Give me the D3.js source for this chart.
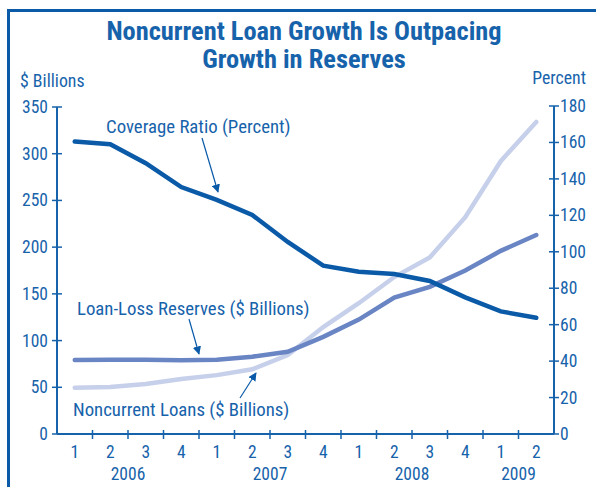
<!DOCTYPE html>
<html lang="en">
	<head>
		<meta charset="utf-8">
		<title>Noncurrent Loan Growth</title>
		<script src="https://d3js.org/d3.v7.min.js"></script>
		<style>
			body { margin: 0; background: #fff; }
			text { font-family: "Liberation Sans Narrow", "Roboto Condensed", "Arial Narrow", sans-serif; fill: #1763ab; }
		</style>
	</head>
	<body>
		<div id="chart"></div>
		<script>
// quarters and years
var quarters = ["1", "2", "3", "4", "1", "2", "3", "4", "1", "2", "3", "4", "1", "2"];
var years = ["2006", "2007", "2008", "2009"];
var yearStart = [0, 4, 8, 12];
var yearLen = [4, 4, 4, 2];

// series values
var coverageRatio = [160.5, 159, 148.6, 135.5, 128.5, 120.2, 105.4, 92.4, 89, 87.8, 84, 75, 67.3, 63.8];       // percent
var loanLossReserves = [79.2, 79.5, 79.5, 79, 79.5, 82.8, 88, 104, 122.5, 146, 157.5, 175, 196, 213];             // $ billions
var noncurrentLoans = [49.6, 50.2, 53.5, 58.8, 63, 69.3, 84.5, 114.5, 140, 168, 189, 232, 292, 334];              // $ billions

var leftTicks = [0, 50, 100, 150, 200, 250, 300, 350];
var rightTicks = [0, 20, 40, 60, 80, 100, 120, 140, 160, 180];

var blue = "#1763ab";
var W = 596, H = 487;

var svg = d3.select("#chart")
	.append("svg")
	.attr("width", W)
	.attr("height", H);

// frame
svg.append("path")
	.attr("d", "M8.5," + H + "V10.5H" + W)
	.attr("fill", "none")
	.attr("stroke", "#0a5aa8")
	.attr("stroke-width", 3);

// scales
var x = d3.scaleBand()
	.domain(d3.range(quarters.length))
	.range([57, 554]);

var yL = d3.scaleLinear()
	.domain([0, 350])
	.range([434, 107]);

var yR = d3.scaleLinear()
	.domain([0, 180])
	.range([434, 106]);

function cx(i) { return x(i) + x.bandwidth() / 2; }

// left axis
var gl = svg.append("g").attr("transform", "translate(57,0)");
gl.append("line").attr("y1", yL(0)).attr("y2", yL(350)).attr("stroke", blue).attr("stroke-width", 2);
gl.selectAll("line.t").data(leftTicks).enter().append("line")
	.attr("x1", -5).attr("x2", 5)
	.attr("y1", function (d) { return yL(d); })
	.attr("y2", function (d) { return yL(d); })
	.attr("stroke", blue).attr("stroke-width", 1.5);
gl.selectAll("text").data(leftTicks).enter().append("text")
	.attr("x", -9)
	.attr("y", function (d) { return yL(d) + 6; })
	.attr("text-anchor", "end")
	.style("font-size", "17.5px")
	.text(function (d) { return d; });

// right axis
var gr = svg.append("g").attr("transform", "translate(554,0)");
gr.append("line").attr("y1", yR(0)).attr("y2", yR(180)).attr("stroke", blue).attr("stroke-width", 2);
gr.selectAll("line.t").data(rightTicks).enter().append("line")
	.attr("x1", -5).attr("x2", 5)
	.attr("y1", function (d) { return yR(d); })
	.attr("y2", function (d) { return yR(d); })
	.attr("stroke", blue).attr("stroke-width", 1.5);
gr.selectAll("text").data(rightTicks).enter().append("text")
	.attr("x", 6)
	.attr("y", function (d) { return yR(d) + 6; })
	.attr("text-anchor", "start")
	.style("font-size", "17.5px")
	.text(function (d) { return d; });

// x axis
var gx = svg.append("g").attr("transform", "translate(0,434)");
gx.append("line").attr("x1", 57).attr("x2", 554).attr("stroke", blue).attr("stroke-width", 2);
gx.selectAll("line.t").data(d3.range(1, quarters.length)).enter().append("line")
	.attr("x1", function (d) { return x(d); })
	.attr("x2", function (d) { return x(d); })
	.attr("y1", -4).attr("y2", 5)
	.attr("stroke", blue).attr("stroke-width", 1.5);
gx.selectAll("text.q").data(quarters).enter().append("text")
	.attr("x", function (d, i) { return cx(i); })
	.attr("y", 24)
	.attr("text-anchor", "middle")
	.style("font-size", "17.5px")
	.text(function (d) { return d; });
gx.selectAll("text.y").data(years).enter().append("text")
	.attr("x", function (d, i) { return x(yearStart[i]) + x.bandwidth() * yearLen[i] / 2; })
	.attr("y", 46)
	.attr("text-anchor", "middle")
	.style("font-size", "17.5px")
	.text(function (d) { return d; });

// axis titles
svg.append("text").attr("x", 20).attr("y", 87).style("font-size", "17.8px").text("$ Billions");
svg.append("text").attr("x", 586).attr("y", 84).attr("text-anchor", "end").style("font-size", "17.8px").text("Percent");

// title
svg.append("text").attr("x", 304).attr("y", 40).attr("text-anchor", "middle")
	.style("font-size", "26.4px").style("font-weight", "bold").text("Noncurrent Loan Growth Is Outpacing");
svg.append("text").attr("x", 304).attr("y", 68).attr("text-anchor", "middle")
	.style("font-size", "26.4px").style("font-weight", "bold").text("Growth in Reserves");

// lines
var lineL = d3.line().x(function (d, i) { return cx(i); }).y(function (d) { return yL(d); });
var lineR = d3.line().x(function (d, i) { return cx(i); }).y(function (d) { return yR(d); });

svg.append("path").datum(noncurrentLoans).attr("d", lineL)
	.attr("fill", "none").attr("stroke", "#c6d0ea").attr("stroke-width", 4.5).attr("stroke-linecap", "round");
svg.append("path").datum(loanLossReserves).attr("d", lineL)
	.attr("fill", "none").attr("stroke", "#6a85c4").attr("stroke-width", 4.5).attr("stroke-linecap", "round");
svg.append("path").datum(coverageRatio).attr("d", lineR)
	.attr("fill", "none").attr("stroke", "#0a5aa8").attr("stroke-width", 4.5).attr("stroke-linecap", "round");

// annotations
svg.append("defs").append("marker")
	.attr("id", "arr")
	.attr("viewBox", "0 0 10 10")
	.attr("refX", 9).attr("refY", 5)
	.attr("markerWidth", 7).attr("markerHeight", 7)
	.attr("orient", "auto")
	.append("path").attr("d", "M0,0L10,5L0,10z").attr("fill", "#0a5aa8");

function note(label, tx, ty, x1, y1, x2, y2) {
	svg.append("text").attr("x", tx).attr("y", ty).style("font-size", "18.8px").text(label);
	svg.append("line").attr("x1", x1).attr("y1", y1).attr("x2", x2).attr("y2", y2)
		.attr("stroke", "#0a5aa8").attr("stroke-width", 1.2).attr("marker-end", "url(#arr)");
}
note("Coverage Ratio (Percent)", 106, 133, 202, 138, 218, 192);
note("Loan-Loss Reserves ($ Billions)", 77, 315, 189, 319, 199, 354);
note("Noncurrent Loans ($ Billions)", 73, 416, 240, 398, 256, 373);
		</script>
	</body>
</html>
